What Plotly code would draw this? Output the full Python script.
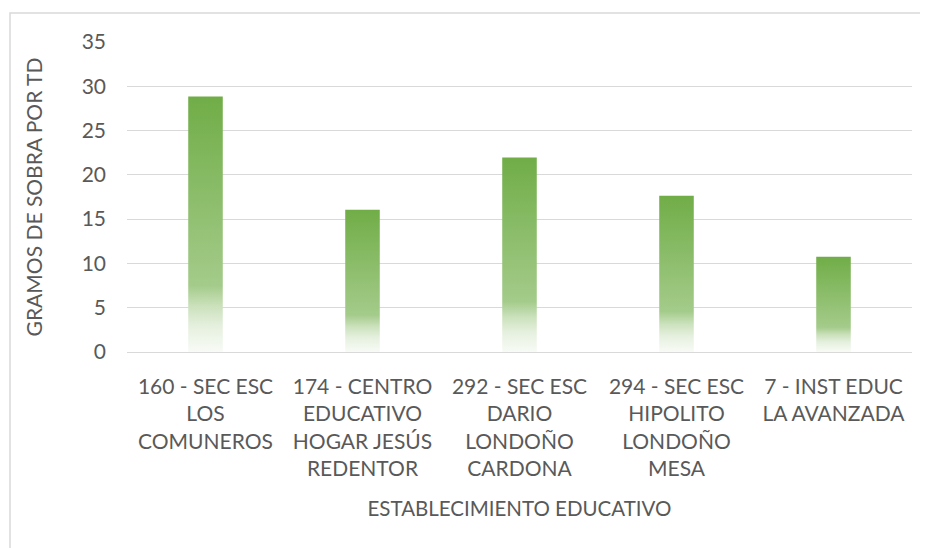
import plotly.graph_objects as go

categories = [
    "160 - SEC ESC<br>LOS<br>COMUNEROS",
    "174 - CENTRO<br>EDUCATIVO<br>HOGAR JESÚS<br>REDENTOR",
    "292 - SEC ESC<br>DARIO<br>LONDOÑO<br>CARDONA",
    "294 - SEC ESC<br>HIPOLITO<br>LONDOÑO<br>MESA",
    "7 - INST EDUC<br>LA AVANZADA",
]
values = [28.85, 16.05, 21.95, 17.65, 10.75]
y_ticks = [0, 5, 10, 15, 20, 25, 30, 35]

BAR_W = 0.22
FONT = "Lato, Carlito, Calibri, sans-serif"
TXT = "#595959"
GRID = "#d9d9d9"
gradient = [[0.0, "#f8fbf6"], [0.1, "#e6f0df"], [0.18, "#cbe1bc"],
            [0.26, "#a4cb8a"], [1.0, "#70ad47"]]

# page body has an 8px default margin; margins below compensate for it
L, R, T, B = 119, 24, 34, 204
W, H = 928, 548
PW, PH = W - L - R, H - T - B

fig = go.Figure()
for i, v in enumerate(values):
    x0, x1 = i - BAR_W / 2, i + BAR_W / 2
    fig.add_trace(go.Scatter(
        x=[x0, x0, x1, x1, x0], y=[0, v, v, 0, 0],
        mode="lines", line=dict(width=0), fill="toself",
        fillgradient=dict(type="vertical", colorscale=gradient),
        hoverinfo="skip", showlegend=False,
    ))

fig.update_layout(
    width=W, height=H,
    margin=dict(l=L, r=R, t=T, b=B, autoexpand=False),
    paper_bgcolor="white", plot_bgcolor="white",
    font=dict(family=FONT, size=21, color=TXT),
    xaxis=dict(
        range=[-0.5, len(values) - 0.5], automargin=False,
        tickvals=list(range(len(values))), ticktext=categories,
        showgrid=False, zeroline=False, showline=False, ticks="",
        ticklabelstandoff=20,
        tickfont=dict(size=21, color=TXT),
        title=dict(text="ESTABLECIMIENTO EDUCATIVO", font=dict(size=20.5, color=TXT), standoff=22),
    ),
    yaxis=dict(
        range=[0, 35], tickvals=y_ticks, automargin=False,
        showgrid=True, gridcolor=GRID, gridwidth=1,
        zeroline=True, zerolinecolor=GRID, zerolinewidth=1,
        showline=False, ticks="", ticklabelstandoff=20,
        tickfont=dict(size=21, color=TXT),
        title=dict(text="GRAMOS DE SOBRA POR TD", font=dict(size=21, color=TXT), standoff=33),
    ),
    shapes=[dict(type="rect", xref="paper", yref="paper",
                 x0=(2 - L) / PW, x1=(W + 20 - L) / PW,
                 y0=(H - B - (H + 20)) / PH, y1=(H - B - 5) / PH,
                 line=dict(color=GRID, width=1.5), fillcolor="rgba(0,0,0,0)", layer="below")],
)

fig.write_html("out.html")
